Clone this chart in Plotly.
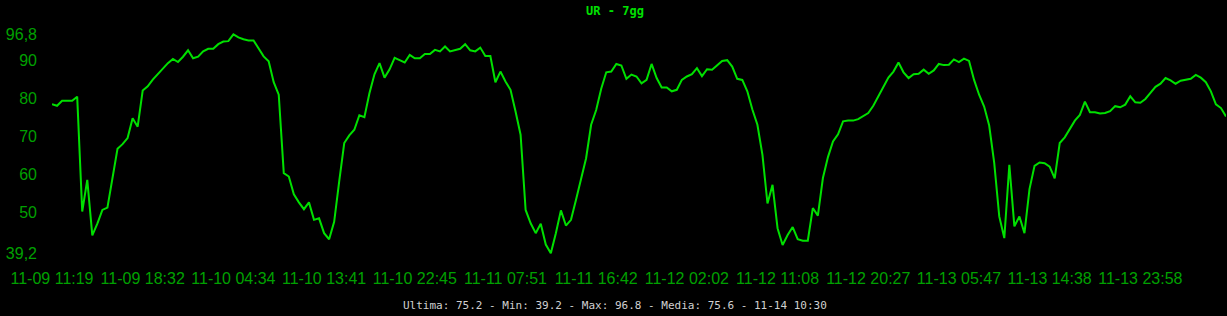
import plotly.graph_objects as go

# ---- data ----
tick_labels = ["11-09 11:19", "11-09 18:32", "11-10 04:34", "11-10 13:41", "11-10 22:45",
               "11-11 07:51", "11-11 16:42", "11-12 02:02", "11-12 11:08", "11-12 20:27",
               "11-13 05:47", "11-13 14:38", "11-13 23:58"]
points_per_label = 18

ur_values = [
    78.4, 78.0, 79.3, 79.3, 79.3, 80.4, 50.2, 58.5, 43.9, 47.0,
    50.6, 51.2, 58.5, 66.7, 67.9, 69.5, 74.7, 72.5, 82.0, 83.1,
    84.9, 86.4, 87.9, 89.2, 90.3, 89.5, 90.9, 92.6, 90.5, 90.9,
    92.3, 93.0, 93.0, 94.2, 94.9, 95.0, 96.8, 96.0, 95.5, 95.2,
    95.2, 93.0, 91.0, 89.7, 84.2, 80.9, 60.3, 59.4, 54.7, 52.6,
    50.8, 52.6, 48.0, 48.4, 44.5, 42.9, 47.5, 58.1, 68.2, 70.2,
    71.7, 75.5, 75.0, 81.3, 86.3, 89.2, 85.4, 87.6, 90.6, 90.0,
    89.4, 91.4, 90.5, 90.5, 91.6, 91.6, 92.7, 92.3, 93.6, 92.3,
    92.6, 93.0, 94.2, 92.6, 92.3, 93.3, 91.1, 91.1, 84.2, 87.0,
    84.4, 82.2, 76.5, 70.4, 50.6, 47.1, 44.5, 47.0, 41.5, 39.2,
    44.5, 50.5, 46.5, 48.0, 53.3, 59.0, 64.2, 73.0, 76.9, 82.5,
    86.8, 87.0, 89.0, 88.6, 85.1, 86.2, 85.7, 83.9, 84.8, 89.0,
    85.3, 82.8, 82.8, 81.8, 82.2, 84.8, 85.7, 86.3, 87.9, 85.8,
    87.6, 87.5, 88.6, 89.8, 90.0, 88.3, 85.1, 84.8, 81.8, 77.0,
    73.0, 65.1, 52.3, 57.2, 45.8, 41.4, 44.0, 46.1, 42.9, 42.5,
    42.5, 51.1, 49.1, 59.0, 64.5, 68.6, 70.5, 73.9, 74.1, 74.1,
    74.5, 75.4, 76.1, 78.0, 80.4, 83.1, 85.4, 87.0, 89.4, 86.8,
    85.3, 86.3, 86.4, 87.5, 86.4, 87.3, 89.0, 88.7, 88.8, 90.2,
    89.5, 90.4, 89.8, 84.8, 80.9, 77.8, 72.8, 63.0, 48.9, 43.2,
    62.5, 46.3, 48.9, 44.5, 56.1, 62.2, 63.1, 62.9, 62.0, 58.9,
    68.2, 69.7, 71.9, 74.1, 75.6, 79.1, 76.3, 76.3, 76.0, 76.1,
    76.6, 77.9, 77.6, 78.3, 80.5, 78.9, 78.8, 79.8, 81.4, 83.0,
    83.8, 85.3, 84.7, 83.8, 84.6, 84.8, 85.1, 86.1, 85.4, 84.2,
    81.8, 78.4, 77.4, 75.2,
]

y_tick_vals = [96.8, 90, 80, 70, 60, 50, 39.2]
y_tick_text = ["96,8", "90", "80", "70", "60", "50", "39,2"]

title_text = "UR - 7gg"
footer_text = "Ultima: 75.2 - Min: 39.2 - Max: 96.8 - Media: 75.6 - 11-14 10:30"

# ---- figure ----
W, H = 1227, 316
LINE = "#00e000"
AXIS = "#00a000"

x_idx = list(range(len(ur_values)))
tick_pos = [i * points_per_label for i in range(len(tick_labels))]

fig = go.Figure(go.Scatter(
    x=x_idx, y=ur_values, mode="lines",
    line=dict(color=LINE, width=2),
    hoverinfo="skip",
))

ymin, ymax = min(y_tick_vals), max(y_tick_vals)
pad_top = 1.13
pad_bot = 0.97

fig.update_layout(
    width=W, height=H,
    paper_bgcolor="black", plot_bgcolor="black",
    margin=dict(l=52, r=1, t=30, b=59, pad=0),
    showlegend=False,
    title=dict(
        text=title_text, x=615 / W, xanchor="center",
        y=1 - 11 / H, yanchor="middle", yref="container",
        font=dict(family="DejaVu Sans Mono", size=12, color=LINE, weight="bold"),
    ),
    xaxis=dict(
        range=[0, len(ur_values) - 1],
        tickmode="array", tickvals=tick_pos, ticktext=tick_labels,
        showgrid=False, zeroline=False, showline=False, ticks="",
        tickfont=dict(family="Liberation Sans, Arial", size=16, color=AXIS),
        ticklabelstandoff=10, automargin=False, fixedrange=True,
    ),
    yaxis=dict(
        range=[ymin - pad_bot, ymax + pad_top],
        tickmode="array", tickvals=y_tick_vals, ticktext=y_tick_text,
        showgrid=False, zeroline=False, showline=False, ticks="",
        tickfont=dict(family="Liberation Sans, Arial", size=16, color=AXIS),
        ticklabelstandoff=14, automargin=False, fixedrange=True,
    ),
    annotations=[dict(
        text=footer_text, xref="paper", yref="paper",
        x=(615 - 52) / (W - 53), y=-(305 - 257) / 227,
        xanchor="center", yanchor="middle", showarrow=False,
        font=dict(family="DejaVu Sans Mono", size=11, color="#d0d0d0"),
    )],
)

fig.write_html("out.html")
